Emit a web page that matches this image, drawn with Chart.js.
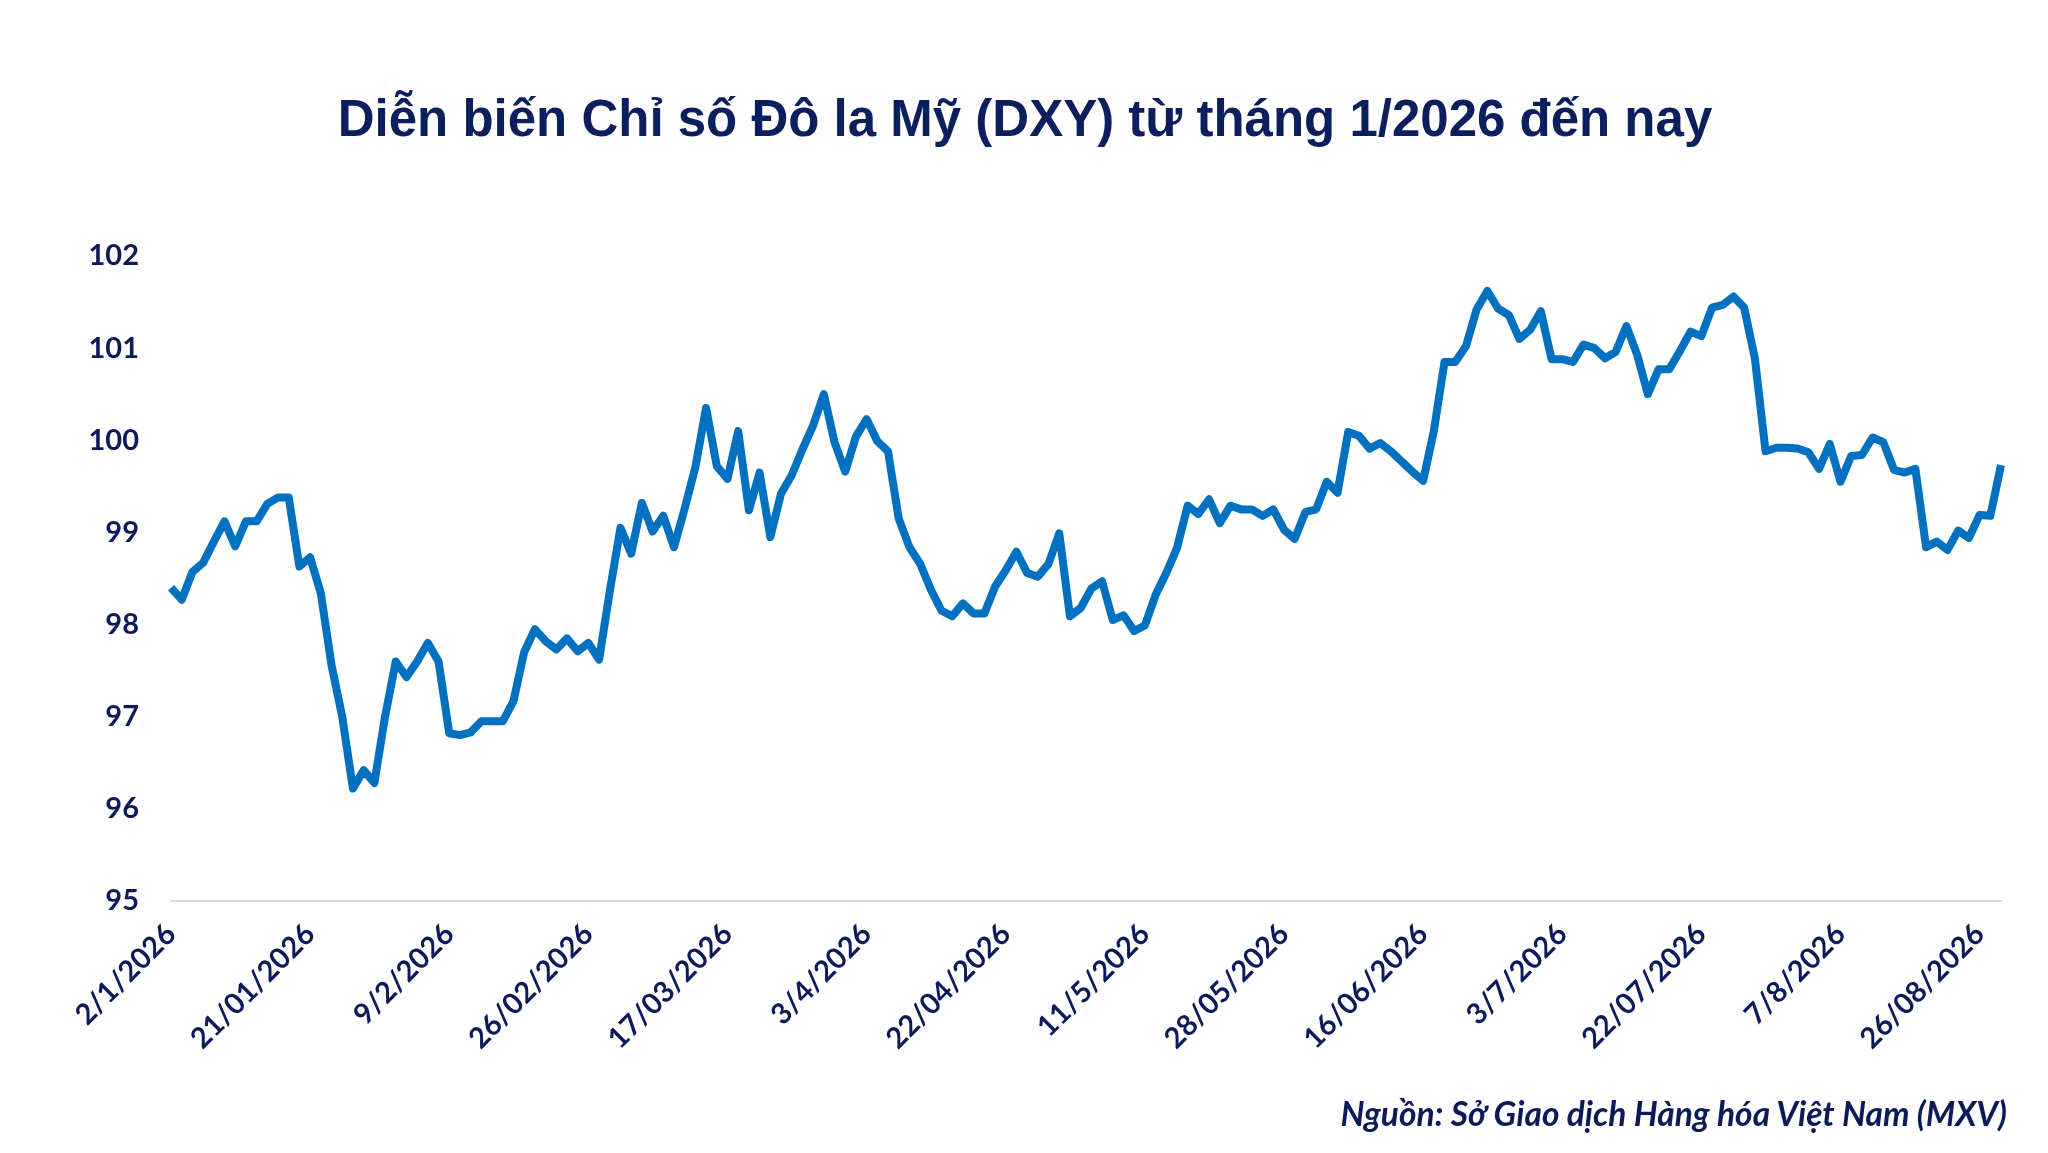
<!DOCTYPE html>
<html lang="vi">
<head>
<meta charset="utf-8">
<title>DXY 2026</title>
<script src="https://cdn.jsdelivr.net/npm/chart.js@4.4.1/dist/chart.umd.min.js"></script>
<style>
    html, body {
        margin: 0;
        padding: 0;
        background: #ffffff;
    }

    #wrap {
        position: relative;
        width: 2048px;
        height: 1153px;
    }

    #title {
        position: absolute;
        left: 1025px;
        top: 89px;
        transform: translateX(-50%);
        font-family: "Liberation Sans", Arial, sans-serif;
        font-weight: 700;
        font-size: 51px;
        line-height: 60px;
        color: #0b1f5e;
        white-space: nowrap;
    }

    #source {
        position: absolute;
        right: 41px;
        top: 1093px;
        font-family: "Lato", sans-serif;
        font-weight: 700;
        font-style: italic;
        font-size: 33.5px;
        color: #0b1a5a;
        white-space: nowrap;
    }
</style>
</head>
<body>

<div id="wrap">
    <canvas id="dxyChart"></canvas>
    <div id="title"></div>
    <div id="source">Nguồn: Sở Giao dịch Hàng hóa Việt Nam (MXV)</div>
</div>

<script>
/* ---------------- Data ---------------- */

const TITLE = "Diễn biến Chỉ số Đô la Mỹ (DXY) từ tháng 1/2026 đến nay";

// one label every 13 sessions, starting at the first point
const tickLabels = [
    "2/1/2026", "21/01/2026", "9/2/2026", "26/02/2026", "17/03/2026",
    "3/4/2026", "22/04/2026", "11/5/2026", "28/05/2026", "16/06/2026",
    "3/7/2026", "22/07/2026", "7/8/2026", "26/08/2026"
];
const tickEvery = 13;

// DXY close
const dxyValues = [
    98.40, 98.27, 98.57, 98.67, 98.90, 99.12, 98.85, 99.12, 99.12, 99.31,
    99.38, 99.38, 98.63, 98.73, 98.34, 97.56, 97.00, 96.22, 96.42, 96.28,
    97.00, 97.60, 97.43, 97.60, 97.80, 97.60, 96.82, 96.80, 96.83, 96.95,
    96.95, 96.95, 97.17, 97.70, 97.95, 97.82, 97.73, 97.85, 97.71, 97.80,
    97.62, 98.36, 99.05, 98.77, 99.32, 99.01, 99.18, 98.84, 99.26, 99.71,
    100.35, 99.72, 99.58, 100.10, 99.24, 99.65, 98.95, 99.42, 99.62, 99.90,
    100.16, 100.50, 99.98, 99.66, 100.04, 100.23, 99.99, 99.88, 99.15, 98.84,
    98.66, 98.38, 98.15, 98.09, 98.23, 98.12, 98.12, 98.41, 98.59, 98.79,
    98.56, 98.52, 98.66, 98.99, 98.09, 98.18, 98.39, 98.47, 98.05, 98.10,
    97.93, 97.99, 98.32, 98.56, 98.83, 99.29, 99.20, 99.36, 99.10, 99.29,
    99.25, 99.25, 99.18, 99.25, 99.03, 98.93, 99.22, 99.25, 99.55, 99.43,
    100.09, 100.05, 99.91, 99.97, 99.88, 99.77, 99.66, 99.56, 100.10, 100.85,
    100.85, 101.02, 101.42, 101.62, 101.43, 101.36, 101.10, 101.20, 101.40, 100.88,
    100.88, 100.85, 101.04, 101.00, 100.89, 100.96, 101.24, 100.93, 100.50, 100.77,
    100.77, 100.97, 101.18, 101.13, 101.44, 101.47, 101.56, 101.44, 100.89, 99.88,
    99.92, 99.92, 99.91, 99.87, 99.69, 99.96, 99.55, 99.83, 99.84, 100.03,
    99.98, 99.68, 99.65, 99.69, 98.84, 98.90, 98.81, 99.02, 98.94, 99.19,
    99.18, 99.73
];

const yMin = 95;
const yMax = 102;

/* ---------------- Chart ---------------- */

const NAVY = "#0b1a5a";

function createDxyChart() {

    const sessions = dxyValues.map((v, i) => i);

    new Chart(

        document.getElementById("dxyChart"),

        {
            type: "line",

            data: {
                labels: sessions,
                datasets: [
                    {
                        label: "DXY",
                        data: dxyValues,
                        borderColor: "#0070c0",
                        borderWidth: 8,
                        pointRadius: 0,
                        tension: 0,
                        borderJoinStyle: "round",
                        borderCapStyle: "butt"
                    }
                ]
            },

            options: {
                responsive: true,
                maintainAspectRatio: false,
                animation: false,
                devicePixelRatio: 1,

                layout: {
                    padding: { top: 256, left: 0, right: 47, bottom: 0 }
                },

                plugins: {
                    legend: { display: false },
                    tooltip: { enabled: false }
                },

                scales: {
                    x: {
                        grid: { display: false, drawTicks: false },
                        border: { display: true, color: "#d9d9d9", width: 2 },
                        ticks: {
                            autoSkip: false,
                            maxRotation: 45,
                            minRotation: 45,
                            padding: 16,
                            color: NAVY,
                            font: { family: "Lato, sans-serif", size: 29, weight: "bold" },
                            callback: (value, index) =>
                                index % tickEvery === 0 ? tickLabels[index / tickEvery] : null
                        },
                        afterFit: scale => { scale.height = 252; }
                    },
                    y: {
                        min: yMin,
                        max: yMax,
                        grid: { display: false, drawTicks: false },
                        border: { display: false },
                        ticks: {
                            stepSize: 1,
                            padding: 32,
                            color: NAVY,
                            font: { family: "Lato, sans-serif", size: 29, weight: "bold" }
                        },
                        afterFit: scale => { scale.width = 171; }
                    }
                }
            }
        }
    );
}

/* ---------------- Start ---------------- */

document.getElementById("title").textContent = TITLE;
createDxyChart();
</script>

</body>
</html>
